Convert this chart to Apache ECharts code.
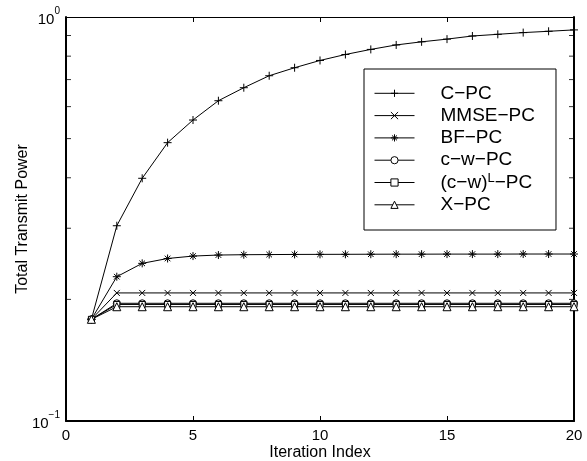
<!DOCTYPE html>
<html>
<head>
<meta charset="utf-8">
<script src="https://cdn.jsdelivr.net/npm/echarts@6/dist/echarts.min.js"></script>
<style>
html,body{margin:0;padding:0;background:#fff;}
#chart{width:587px;height:461px;}
</style>
</head>
<body>
<div id="chart"></div>
<script>
// ---- data ----
const iterations = [1,2,3,4,5,6,7,8,9,10,11,12,13,14,15,16,17,18,19,20];
const cPC    = [0.1785,0.3043,0.3988,0.4886,0.5559,0.6205,0.6683,0.7155,0.7489,0.7806,0.8076,0.8313,0.8528,0.8681,0.8816,0.8974,0.9060,0.9149,0.9218,0.9291];
const mmsePC = [0.1785,0.2075,0.2075,0.2075,0.2075,0.2075,0.2075,0.2075,0.2075,0.2075,0.2075,0.2075,0.2075,0.2075,0.2075,0.2075,0.2075,0.2075,0.2075,0.2075];
const bfPC   = [0.1785,0.2276,0.2456,0.2525,0.2560,0.2575,0.2580,0.2582,0.2584,0.2585,0.2586,0.2587,0.2588,0.2588,0.2589,0.2589,0.2589,0.2590,0.2590,0.2590];
const cwPC   = [0.1785,0.1956,0.1956,0.1956,0.1956,0.1956,0.1956,0.1956,0.1956,0.1956,0.1956,0.1956,0.1956,0.1956,0.1956,0.1956,0.1956,0.1956,0.1956,0.1956];
const cwLPC  = [0.1785,0.1943,0.1943,0.1943,0.1943,0.1943,0.1943,0.1943,0.1943,0.1943,0.1943,0.1943,0.1943,0.1943,0.1943,0.1943,0.1943,0.1943,0.1943,0.1943];
const xPC    = [0.1785,0.1918,0.1918,0.1918,0.1918,0.1918,0.1918,0.1918,0.1918,0.1918,0.1918,0.1918,0.1918,0.1918,0.1918,0.1918,0.1918,0.1918,0.1918,0.1918];
const seriesNames = ['C\u2212PC','MMSE\u2212PC','BF\u2212PC','c\u2212w\u2212PC','(c\u2212w)L\u2212PC','X\u2212PC'];
const xMin = 0, xMax = 20, xInterval = 5;
const yMin = 0.1, yMax = 1;
const yMinorTicks = [0.2,0.3,0.4,0.5,0.6,0.7,0.8,0.9];
const xName = 'Iteration Index';
const yName = 'Total Transmit Power';

// ---- styling ----
const FONT = 'Liberation Sans, Arial, Helvetica, sans-serif';
const SYM = {
  plus: 'path://M5,0L5,10M0,5L10,5',
  cross: 'path://M0,0L10,10M10,0L0,10',
  star: 'path://M5,0L5,10M0,5L10,5M1.5,1.5L8.5,8.5M8.5,1.5L1.5,8.5',
  circle: 'path://M10,5A5,5,0,1,1,0,5A5,5,0,1,1,10,5Z',
  square: 'path://M0,0L10,0L10,10L0,10Z',
  triangle: 'path://M5,0L10,9L0,9Z'
};
const seriesData = [cPC, mmsePC, bfPC, cwPC, cwLPC, xPC];
const symbols = [SYM.plus, SYM.cross, SYM.star, SYM.circle, SYM.square, SYM.triangle];
const symSizes = [8, 6, 8, 7, 6, 8];

const chart = echarts.init(document.getElementById('chart'), null, {renderer:'canvas'});

const lineSeries = seriesNames.map((name, i) => ({
  name: name,
  type: 'line',
  xAxisIndex: 0,
  yAxisIndex: 0,
  data: iterations.map((x, k) => [x, seriesData[i][k]]),
  symbol: symbols[i],
  symbolSize: symSizes[i],
  showAllSymbol: true,
  lineStyle: {color: '#000', width: 1},
  itemStyle: {color: '#fff', borderColor: '#000', borderWidth: 1},
  emphasis: {disabled: true},
  z: 3
}));

// inner minor ticks of the log axis on the left and right frame edges
function tickSeries(xVal, offset) {
  return {
    type: 'scatter',
    xAxisIndex: 0,
    yAxisIndex: 0,
    silent: true,
    clip: false,
    data: yMinorTicks.map(v => [xVal, v]),
    symbol: 'rect',
    symbolSize: [5, 1],
    symbolOffset: [offset, 0],
    itemStyle: {color: '#000'},
    emphasis: {disabled: true},
    z: 4
  };
}

function supLabel(v) {
  const e = Math.round(Math.log10(v));
  return '{b|10}{s|' + (e < 0 ? '\u2212' + (-e) : e) + '}';
}

chart.setOption({
  animation: false,
  backgroundColor: '#fff',
  textStyle: {fontFamily: FONT, color: '#000'},
  grid: {left: 66, right: 13, top: 17, bottom: 40, containLabel: false, outerBoundsMode: 'none'},
  legend: {
    orient: 'vertical',
    left: 364,
    top: 69,
    data: seriesNames,
    itemWidth: 40,
    itemHeight: 9,
    itemGap: 0.3,
    padding: [13.3, 21, 14.2, 10],
    borderColor: '#000',
    borderWidth: 1,
    backgroundColor: '#fff',
    selectedMode: false,
    lineStyle: {color: '#000', width: 1},
    itemStyle: {color: '#fff', borderColor: '#000', borderWidth: 1},
    formatter: function (name) {
      if (name === '(c\u2212w)L\u2212PC') return '(c\u2212w){s|L}\u2212PC';
      return name;
    },
    textStyle: {
      fontFamily: FONT, fontSize: 19, color: '#000', lineHeight: 22,
      padding: [0, 0, 0, 21],
      rich: {
        s: {fontFamily: FONT, fontSize: 13, color: '#000', lineHeight: 8, verticalAlign: 'top'}
      }
    }
  },
  xAxis: [
    {
      type: 'value', position: 'bottom', min: xMin, max: xMax, interval: xInterval,
      name: xName, nameLocation: 'middle', nameGap: 24, nameMoveOverlap: false,
      nameTextStyle: {fontFamily: FONT, fontSize: 16, color: '#000'},
      axisLine: {show: true, onZero: false, lineStyle: {color: '#000', width: 2}},
      axisTick: {show: true, inside: true, length: 5, lineStyle: {color: '#000', width: 1}},
      axisLabel: {fontFamily: FONT, fontSize: 15, color: '#000', margin: 7},
      splitLine: {show: false}
    },
    {
      type: 'value', position: 'top', min: xMin, max: xMax, interval: xInterval,
      axisLine: {show: true, onZero: false, lineStyle: {color: '#000', width: 1}},
      axisTick: {show: true, inside: true, length: 5, lineStyle: {color: '#000', width: 1}},
      axisLabel: {show: false},
      splitLine: {show: false}
    }
  ],
  yAxis: [
    {
      type: 'log', logBase: 10, position: 'left', min: yMin, max: yMax,
      name: yName, nameLocation: 'middle', nameGap: 35, nameMoveOverlap: false,
      nameTextStyle: {fontFamily: FONT, fontSize: 16, color: '#000'},
      axisLine: {show: true, onZero: false, lineStyle: {color: '#000', width: 2}},
      axisTick: {show: false},
      axisLabel: {
        margin: 6,
        padding: [5, 0, 0, 0],
        formatter: supLabel,
        verticalAlign: 'middle',
        verticalAlignMinLabel: 'middle',
        verticalAlignMaxLabel: 'middle',
        rich: {
          b: {fontFamily: FONT, fontSize: 15, color: '#000', lineHeight: 26},
          s: {fontFamily: FONT, fontSize: 10, color: '#000', lineHeight: 8, verticalAlign: 'top'}
        }
      },
      splitLine: {show: false}
    },
    {
      type: 'log', logBase: 10, position: 'right', min: yMin, max: yMax,
      axisLine: {show: true, onZero: false, lineStyle: {color: '#000', width: 2}},
      axisTick: {show: false},
      axisLabel: {show: false},
      splitLine: {show: false}
    }
  ],
  series: lineSeries.concat([tickSeries(xMin, 2.5), tickSeries(xMax, -2.5)])
});
</script>
</body>
</html>
